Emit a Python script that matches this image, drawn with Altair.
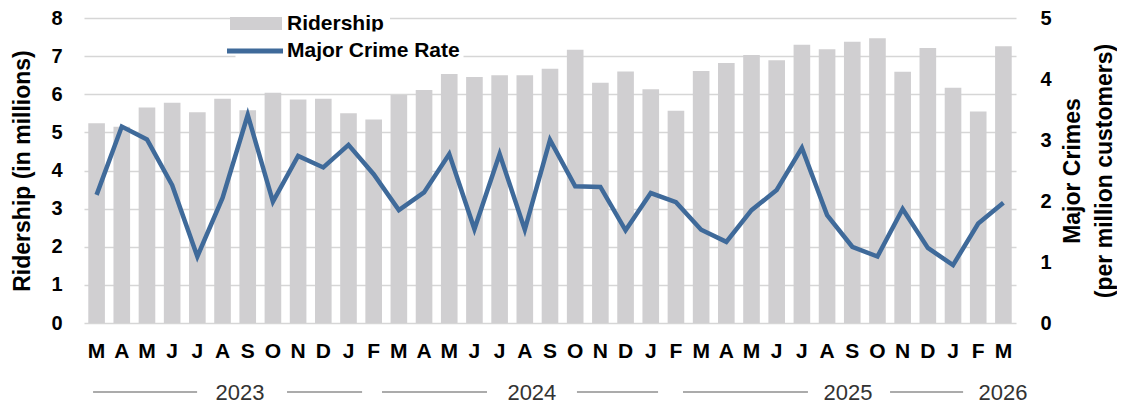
import altair as alt
import pandas as pd

# ---------------- data ----------------
month_keys = [
    "Mar 2023", "Apr 2023", "May 2023", "Jun 2023", "Jul 2023", "Aug 2023",
    "Sep 2023", "Oct 2023", "Nov 2023", "Dec 2023",
    "Jan 2024", "Feb 2024", "Mar 2024", "Apr 2024", "May 2024", "Jun 2024",
    "Jul 2024", "Aug 2024", "Sep 2024", "Oct 2024", "Nov 2024", "Dec 2024",
    "Jan 2025", "Feb 2025", "Mar 2025", "Apr 2025", "May 2025", "Jun 2025",
    "Jul 2025", "Aug 2025", "Sep 2025", "Oct 2025", "Nov 2025", "Dec 2025",
    "Jan 2026", "Feb 2026", "Mar 2026",
]

ridership = [
    5.24, 5.15, 5.65, 5.78, 5.53, 5.88, 5.58, 6.04, 5.86, 5.88,
    5.50, 5.34, 5.98, 6.11, 6.53, 6.45, 6.50, 6.50, 6.67, 7.17, 6.30, 6.60,
    6.13, 5.57, 6.61, 6.82, 7.03, 6.89, 7.30, 7.18, 7.38, 7.47, 6.59, 7.21,
    6.17, 5.55, 7.26,
]

crime_rate = [
    2.10, 3.22, 3.01, 2.26, 1.09, 2.05, 3.41, 1.99, 2.74, 2.55,
    2.92, 2.44, 1.85, 2.14, 2.77, 1.54, 2.77, 1.53, 3.00, 2.24, 2.23, 1.52,
    2.13, 1.98, 1.53, 1.33, 1.85, 2.18, 2.87, 1.77, 1.25, 1.09, 1.87, 1.23,
    0.95, 1.63, 1.97,
]

# year row below the month letters (positions in month-index units)
year_labels = ["2023", "2024", "2025", "2026"]
year_label_pos = [5.69, 17.28, 29.83, 35.98]
year_line_start = [-0.14, 7.56, 11.33, 19.07, 23.28, 31.5]
year_line_end = [3.99, 10.54, 15.5, 22.29, 28.24, 34.4]

series_bar = "Ridership"
series_line = "Major Crime Rate"

# ---------------- styling ----------------
FONT = "Liberation Sans"
BAR_COLOR = "#d0cfd1"
LINE_COLOR = "#3f6a9a"
GRID_COLOR = "#d6d6d6"
W, H = 932, 305

df = pd.DataFrame({
    "month": month_keys,
    "ridership": ridership,
    "crime": crime_rate,
    "s_bar": series_bar,
    "s_line": series_line,
})
years_df = pd.DataFrame({"pos": year_label_pos, "label": year_labels})
ylines_df = pd.DataFrame({"start": year_line_start, "end": year_line_end})

band = alt.Scale(paddingInner=0.34, paddingOuter=0.17)

x_axis = alt.Axis(
    labelExpr="substring(datum.value, 0, 1)",
    labelAngle=0,
    labelFont=FONT,
    labelFontSize=21,
    labelFontWeight="bold",
    labelColor="#000000",
    labelPadding=17,
    ticks=False,
    domain=False,
    grid=False,
    title=None,
)

bars = alt.Chart(df).mark_bar().encode(
    x=alt.X("month:N", sort=month_keys, scale=band, axis=x_axis),
    y=alt.Y(
        "ridership:Q",
        scale=alt.Scale(domain=[0, 8], nice=False),
        axis=alt.Axis(
            values=[0, 1, 2, 3, 4, 5, 6, 7, 8],
            grid=True,
            gridColor=GRID_COLOR,
            gridWidth=1.6,
            ticks=False,
            domain=False,
            labelFont=FONT,
            labelFontSize=20,
            labelFontWeight="bold",
            labelColor="#000000",
            labelPadding=22,
            title="Ridership (in millions)",
            titleFont=FONT,
            titleFontSize=23,
            titleFontWeight="bold",
            titleColor="#000000",
            titleAngle=270,
            titleX=-62,
            titleY=H / 2,
            titleAlign="center",
            titleBaseline="middle",
        ),
    ),
    fill=alt.Fill(
        "s_bar:N",
        scale=alt.Scale(domain=[series_bar], range=[BAR_COLOR]),
        legend=alt.Legend(
            title=None,
            orient="none",
            legendX=153,
            legendY=-13.5,
            symbolType="M-2,-0.5H2V0.5H-2Z",
            symbolSize=676,
            symbolStrokeWidth=0,
            labelFont=FONT,
            labelFontSize=21,
            labelFontWeight="bold",
            labelColor="#000000",
            labelOffset=18,
            labelLimit=400,
            padding=6,
            fillColor="white",
        ),
    ),
)

line = alt.Chart(df).mark_line(strokeWidth=4.5).encode(
    x=alt.X("month:N", sort=month_keys, scale=band, axis=None),
    y=alt.Y(
        "crime:Q",
        scale=alt.Scale(domain=[0, 5], nice=False),
        axis=alt.Axis(
            orient="right",
            values=[0, 1, 2, 3, 4, 5],
            grid=False,
            ticks=False,
            domain=False,
            labelFont=FONT,
            labelFontSize=20,
            labelFontWeight="bold",
            labelColor="#000000",
            labelPadding=24,
            title=["Major Crimes", "(per million customers)"],
            titleFont=FONT,
            titleFontSize=23,
            titleFontWeight="bold",
            titleColor="#000000",
            titleAngle=270,
            titleX=56,
            titleY=H / 2,
            titleAlign="center",
            titleBaseline="middle",
            titleLineHeight=32,
        ),
    ),
    stroke=alt.Stroke(
        "s_line:N",
        scale=alt.Scale(domain=[series_line], range=[LINE_COLOR]),
        legend=alt.Legend(
            title=None,
            orient="none",
            legendX=151.5,
            legendY=13.5,
            symbolType="M-2,0H2",
            symbolSize=784,
            symbolStrokeWidth=5,
            labelFont=FONT,
            labelFontSize=21,
            labelFontWeight="bold",
            labelColor="#000000",
            labelOffset=15.5,
            labelLimit=400,
            padding=3,
            fillColor="white",
        ),
    ),
)

year_scale = alt.Scale(domain=[-0.5, 36.5], nice=False, zero=False)

year_text = alt.Chart(years_df).mark_text(
    font=FONT, fontSize=22, color="#333333", baseline="middle", align="center"
).encode(
    x=alt.X("pos:Q", scale=year_scale, axis=None),
    y=alt.value(H + 70),
    text="label:N",
)

year_rules = alt.Chart(ylines_df).mark_rule(color="#8f8f8f", strokeWidth=1.5).encode(
    x=alt.X("start:Q", scale=year_scale, axis=None),
    x2="end:Q",
    y=alt.value(H + 69),
)

chart = (
    alt.layer(bars, line, year_rules, year_text)
    .resolve_scale(x="independent", y="independent", fill="independent", stroke="independent")
    .properties(
        width=W,
        height=H,
        autosize=alt.AutoSizeParams(type="none"),
        padding={"left": 76, "top": 10, "right": 101, "bottom": 84},
        background="white",
    )
    .configure_view(stroke=None)
)

chart.save("out.html", embed_options={"renderer": "svg", "actions": False})
